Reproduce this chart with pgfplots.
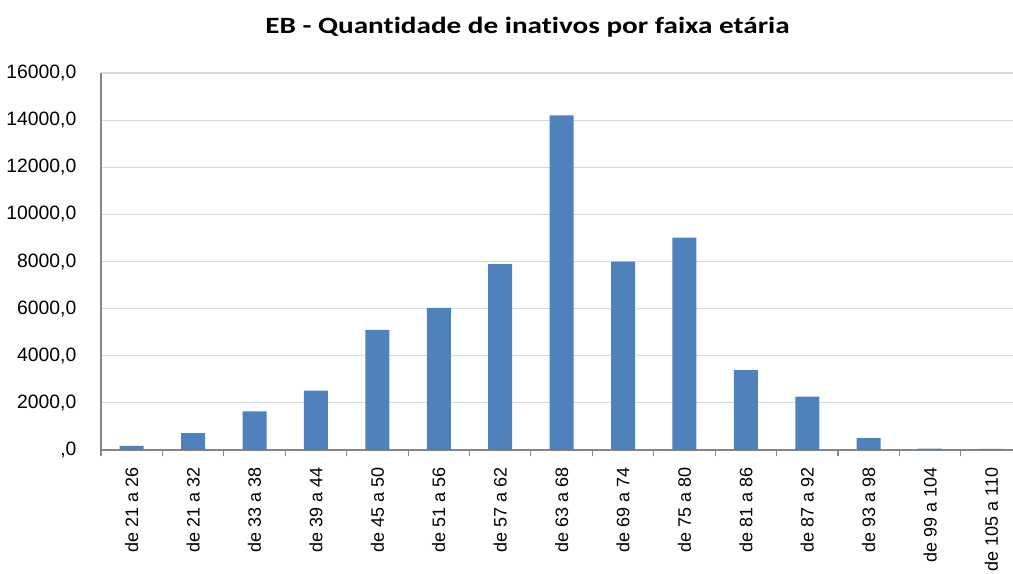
\documentclass[border=0pt]{standalone}
\usepackage{pgfplots}
\pgfplotsset{compat=1.18}
\usepackage{fontspec}
\setmainfont{Liberation Sans}
\newfontfamily\titlefont[Ligatures=NoCommon]{Carlito}
\definecolor{barblue}{HTML}{4F81BD}
\definecolor{gridgray}{HTML}{D9D9D9}
\definecolor{axisgray}{HTML}{868686}
\begin{document}
\begin{tikzpicture}
\useasboundingbox (-75.75pt,-93pt) rectangle (684pt,337.5pt);
\begin{axis}[
  at={(0,0)}, anchor=south west,
  scale only axis,
  width=684pt, height=282.75pt,
  xmin=-0.5, xmax=14.35,
  ymin=0, ymax=16000,
  axis lines*=left,
  axis line style={draw=axisgray, line width=0.8pt},
  scaled y ticks=false,
  ytick={0,2000,...,16000},
  yticklabels={{,0},{2000,0},{4000,0},{6000,0},{8000,0},{10000,0},{12000,0},{14000,0},{16000,0}},
  ytick style={draw=none},
  yticklabel style={font=\fontsize{14.5}{17}\selectfont, anchor=east, inner sep=0pt, xshift=-14pt},
  ymajorgrids,
  major grid style={draw=gridgray, line width=0.9pt},
  xtick={0,...,14},
  xticklabels={de 21 a 26,de 21 a 32,de 33 a 38,de 39 a 44,de 45 a 50,de 51 a 56,de 57 a 62,de 63 a 68,de 69 a 74,de 75 a 80,de 81 a 86,de 87 a 92,de 93 a 98,de 99 a 104,de 105 a 110},
  xticklabel style={font=\fontsize{13.5}{16}\selectfont, rotate=90, anchor=east, inner sep=0pt, xshift=-8.5pt},
  major x tick style={draw=none},
  minor xtick={-0.5,0.5,...,14.5},
  minor x tick style={draw=axisgray, line width=0.8pt},
  minor tick length=4.5pt,
  tick align=outside,
  clip=false,
]
\addplot[ybar, bar width=18pt, fill=barblue, draw=none] coordinates {
 (0,170) (1,720) (2,1640) (3,2520) (4,5100) (5,6030) (6,7890) (7,14200)
 (8,7990) (9,9010) (10,3390) (11,2260) (12,500) (13,60) (14,45)
};
\end{axis}
\node[font=\titlefont\bfseries\fontsize{17.5}{20}\selectfont, xscale=1.25, transform shape] at (319.9pt,317.25pt) {EB - Quantidade de inativos por faixa etária};
\end{tikzpicture}
\end{document}
